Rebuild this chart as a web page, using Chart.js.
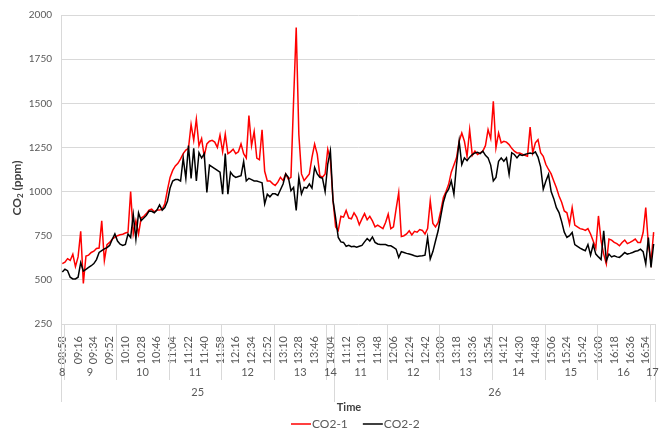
<!DOCTYPE html>
<html>
<head>
<meta charset="utf-8">
<script src="https://cdn.jsdelivr.net/npm/chart.js@4.4.1/dist/chart.umd.min.js"></script>
<style>
  html, body { margin: 0; padding: 0; background: #fff; }
  canvas { display: block; }
</style>
</head>
<body>
<canvas id="co2Chart" width="663" height="431"></canvas>
<script>
// jours et heure de départ de chaque série (pas de 3 minutes)
const days = ['25', '26'];
const dayStarts = ['08:58', '11:00'];
const stepMinutes = 3;
const tickEvery = 6;

// CO2-1 (ppm)
const co2_1_day25 = [
    592, 600, 620, 610, 645, 575, 630, 775, 480, 635,
    640, 655, 662, 678, 680, 834, 610, 700, 712, 730,
    742, 750, 755, 758, 765, 770, 1000, 760, 835, 760,
    850, 860, 875, 895, 900, 885, 895, 895, 900, 930,
    1010, 1080, 1120, 1145, 1160, 1185, 1215, 1235, 1245, 1380,
    1290, 1410, 1260, 1300, 1200, 1270, 1285, 1290, 1280, 1250,
    1320, 1225, 1325, 1215, 1225, 1240, 1215, 1225, 1270, 1215,
    1190, 1430, 1260, 1340, 1190, 1180, 1350, 1115, 1060, 1060,
    1045, 1034, 1053, 1081, 1062, 1100, 1071, 1081, 1515, 1929,
    1323, 1100, 1062, 1081, 1100, 1194, 1269, 1212, 1090, 1081,
    1100, 1240, 1180, 950
];
const co2_1_day26 = [
    800, 780, 860, 855, 893, 850, 846, 880, 856, 812,
    845, 875, 840, 860, 834, 800, 810, 800, 790, 825,
    872, 790, 800, 900, 994, 745, 750, 760, 778, 755,
    775, 770, 785, 780, 760, 790, 947, 820, 800, 825,
    890, 966, 1000, 1041, 1110, 1150, 1191, 1285, 1332, 1285,
    1200, 1350, 1205, 1229, 1210, 1219, 1229, 1260, 1351, 1300,
    1511, 1248, 1332, 1276, 1285, 1280, 1266, 1245, 1229, 1219,
    1219, 1212, 1205, 1200, 1365, 1220, 1276, 1294, 1220, 1200,
    1153, 1125, 1100, 1060, 1022, 975, 940, 890, 880, 815,
    909, 810, 800, 790, 787, 780, 790, 760, 720, 680,
    862, 720, 646, 590, 731, 725, 712, 705, 693, 712,
    725, 705, 712, 721, 731, 712, 712, 768, 909, 700,
    600, 770
];

// CO2-2 (ppm)
const co2_2_day25 = [
    545, 560, 552, 515, 505, 505, 515, 597, 550, 560,
    570, 580, 592, 615, 655, 665, 675, 683, 695, 730,
    760, 720, 702, 695, 700, 760, 740, 870, 730, 880,
    835, 850, 865, 890, 888, 880, 895, 925, 895, 910,
    945, 1020, 1060, 1068, 1068, 1060, 1190, 1075, 1260, 1075,
    1245, 1060, 1220, 1190, 1215, 995, 1150, 1140, 1130, 1120,
    1110, 985, 1215, 985, 1110, 1090, 1080, 1085, 1090, 1170,
    1060, 1075, 1068, 1060, 1060, 1055, 1050, 930, 985, 970,
    987, 987, 978, 1010, 1043, 1100, 1081, 1005, 1024, 893,
    1081, 987, 1024, 1020, 1043, 1020, 1137, 1100, 1081, 1075,
    1000, 1156, 1231, 950
];
const co2_2_day26 = [
    850, 740, 715, 712, 690, 696, 688, 690, 685, 690,
    695, 715, 734, 720, 743, 712, 703, 700, 700, 700,
    693, 693, 684, 674, 627, 660, 655, 650, 646, 642,
    637, 633, 635, 636, 640, 740, 618, 660, 720, 778,
    860, 940, 990, 1013, 1060, 985, 1153, 1285, 1153, 1191,
    1175, 1195, 1210, 1219, 1222, 1215, 1229, 1205, 1191, 1150,
    1060, 1080, 1172, 1191, 1172, 1191, 1097, 1220, 1210, 1191,
    1210, 1205, 1210, 1215, 1219, 1215, 1225, 1195, 1140, 1013,
    1060, 1097, 1000, 960, 909, 881, 830, 770, 740, 750,
    768, 700, 690, 680, 672, 665, 700, 640, 700, 646,
    630, 615, 778, 608, 646, 630, 636, 630, 627, 640,
    655, 646, 650, 655, 662, 665, 674, 660, 590, 740,
    570, 703
];

const yMin = 250;
const yMax = 2000;
const yStep = 250;

const FONT = "Lato, 'Liberation Sans', sans-serif";

// Catégories : heure de chaque mesure, avec le jour
const times = [];
const dayOf = [];
function pushDay(day, start, count) {
    const parts = start.split(':');
    let m = parseInt(parts[0]) * 60 + parseInt(parts[1]);
    for (let k = 0; k < count; k++) {
        const hh = String(Math.floor(m / 60)).padStart(2, '0');
        const mm = String(m % 60).padStart(2, '0');
        times.push(hh + ':' + mm);
        dayOf.push(day);
        m += stepMinutes;
    }
}
pushDay(days[0], dayStarts[0], co2_1_day25.length);
pushDay(days[1], dayStarts[1], co2_1_day26.length);

const co2_1 = co2_1_day25.concat(co2_1_day26);
const co2_2 = co2_2_day25.concat(co2_2_day26);

// Axe à plusieurs niveaux (heure / jour), titres et légende
const extraLabels = {
    id: 'extraLabels',
    afterDraw(chart) {
        const {ctx, chartArea} = chart;
        const x = chart.scales.x;
        const n = times.length;
        const edge = i => i <= 0 ? x.left : i >= n ? x.right :
            (x.getPixelForValue(i - 1) + x.getPixelForValue(i)) / 2;
        const base = chartArea.bottom;

        // groupes d'heures et de jours
        const hours = [];
        const dayGroups = [];
        for (let i = 0; i < n; i++) {
            const h = String(parseInt(times[i].slice(0, 2)));
            const last = hours[hours.length - 1];
            if (!last || last.label !== h || last.day !== dayOf[i]) {
                hours.push({label: h, day: dayOf[i], start: i, end: i + 1});
            } else {
                last.end = i + 1;
            }
            const lastDay = dayGroups[dayGroups.length - 1];
            if (!lastDay || lastDay.label !== dayOf[i]) {
                dayGroups.push({label: dayOf[i], start: i, end: i + 1});
            } else {
                lastDay.end = i + 1;
            }
        }

        ctx.save();
        ctx.strokeStyle = '#d9d9d9';
        ctx.lineWidth = 1;
        const vline = (px, y2) => {
            const xx = Math.round(px) + 0.5;
            ctx.beginPath();
            ctx.moveTo(xx, base);
            ctx.lineTo(xx, y2);
            ctx.stroke();
        };
        hours.forEach(g => vline(edge(g.start), 380));
        dayGroups.forEach(g => vline(edge(g.start), 402));
        vline(edge(n), 402);

        ctx.fillStyle = '#595959';
        ctx.textAlign = 'center';
        ctx.textBaseline = 'middle';
        ctx.font = '11px ' + FONT;
        hours.forEach(g => ctx.fillText(g.label, (edge(g.start) + edge(g.end)) / 2, 372));
        dayGroups.forEach(g => ctx.fillText(g.label, (edge(g.start) + edge(g.end)) / 2, 392));

        // titre de l'axe X
        ctx.fillStyle = '#404040';
        ctx.font = 'bold 11px ' + FONT;
        ctx.fillText('Time', 349, 407);

        // titre de l'axe Y avec indice
        ctx.save();
        ctx.translate(17, 188);
        ctx.rotate(-Math.PI / 2);
        ctx.textAlign = 'left';
        ctx.textBaseline = 'middle';
        const bold = 'bold 12px ' + FONT;
        const small = 'bold 8px ' + FONT;
        ctx.font = bold;
        const wCO = ctx.measureText('CO').width;
        const wRest = ctx.measureText(' (ppm)').width;
        ctx.font = small;
        const w2 = ctx.measureText('2').width;
        let tx = -(wCO + w2 + wRest) / 2;
        ctx.font = bold;
        ctx.fillText('CO', tx, 0);
        tx += wCO;
        ctx.font = small;
        ctx.fillText('2', tx, 3);
        tx += w2;
        ctx.font = bold;
        ctx.fillText(' (ppm)', tx, 0);
        ctx.restore();

        // légende
        const items = [
            {text: 'CO2-1', color: chart.data.datasets[0].borderColor},
            {text: 'CO2-2', color: chart.data.datasets[1].borderColor}
        ];
        ctx.font = '12px ' + FONT;
        ctx.textAlign = 'left';
        let lx = 291;
        const ly = 424;
        items.forEach(it => {
            ctx.strokeStyle = it.color;
            ctx.lineWidth = 1.5;
            ctx.beginPath();
            ctx.moveTo(lx, ly);
            ctx.lineTo(lx + 20, ly);
            ctx.stroke();
            ctx.fillStyle = '#595959';
            ctx.fillText(it.text, lx + 21, ly);
            lx += 21 + ctx.measureText(it.text).width + 15;
        });
        ctx.restore();
    }
};

new Chart(document.getElementById('co2Chart'), {
    type: 'line',
    data: {
        labels: times,
        datasets: [{
            label: 'CO2-1',
            data: co2_1,
            borderColor: '#ff0000',
            borderWidth: 1.5,
            pointRadius: 0,
            tension: 0,
            order: 1
        }, {
            label: 'CO2-2',
            data: co2_2,
            borderColor: '#000000',
            borderWidth: 1.5,
            pointRadius: 0,
            tension: 0,
            order: 0
        }]
    },
    options: {
        responsive: false,
        animation: false,
        events: [],
        layout: {
            padding: {top: 14, right: 3, left: 0, bottom: 0}
        },
        plugins: {
            legend: {display: false},
            tooltip: {enabled: false}
        },
        scales: {
            x: {
                type: 'category',
                offset: true,
                grid: {display: false},
                border: {display: false},
                ticks: {
                    autoSkip: false,
                    maxRotation: 90,
                    minRotation: 90,
                    padding: 4,
                    color: '#595959',
                    font: {family: FONT, size: 11},
                    callback: function(value, index) {
                        return index % tickEvery === 0 ? this.getLabelForValue(value) : null;
                    }
                },
                afterFit: function(scale) {
                    scale.height = 107;
                }
            },
            y: {
                min: yMin,
                max: yMax,
                grid: {color: '#d9d9d9', drawTicks: false},
                border: {display: true, color: '#d9d9d9'},
                ticks: {
                    stepSize: yStep,
                    padding: 9,
                    color: '#595959',
                    font: {family: FONT, size: 10},
                    callback: value => String(value)
                },
                afterFit: function(scale) {
                    scale.width = 61;
                }
            }
        }
    },
    plugins: [extraLabels]
});
</script>
</body>
</html>
